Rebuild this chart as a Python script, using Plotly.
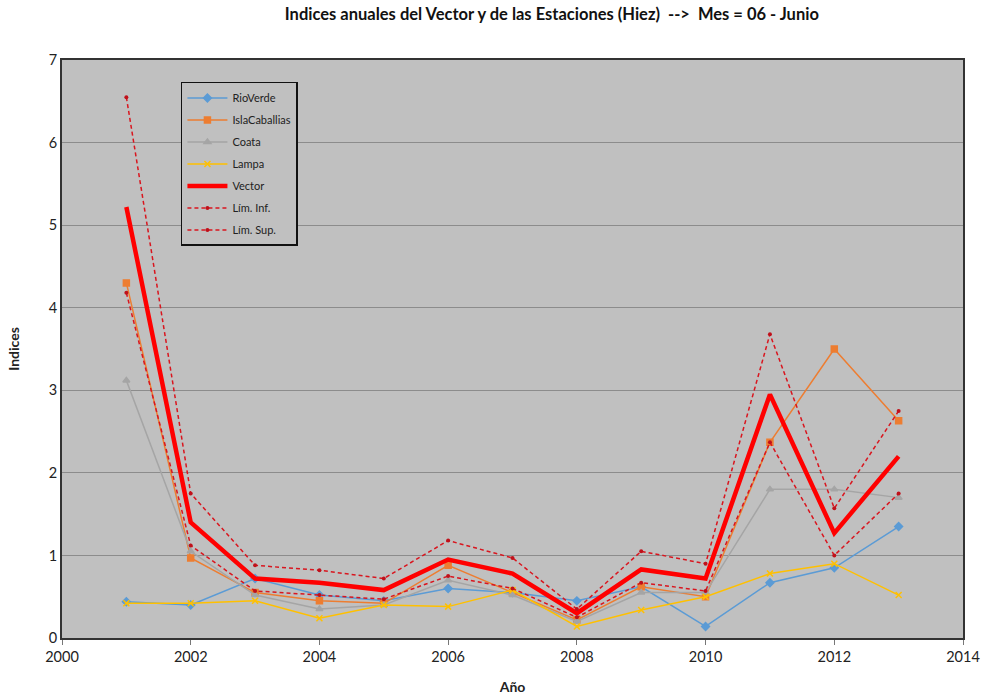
import plotly.graph_objects as go

years = list(range(2001, 2014))

rio_verde = [0.44, 0.40, 0.72, 0.52, 0.45, 0.60, 0.55, 0.45, 0.62, 0.14, 0.67, 0.85, 1.35]
isla_caballias = [4.30, 0.97, 0.55, 0.45, 0.42, 0.88, 0.55, 0.22, 0.62, 0.50, 2.37, 3.50, 2.63]
coata = [3.12, 1.05, 0.52, 0.35, 0.40, 0.70, 0.52, 0.20, 0.55, 0.55, 1.80, 1.80, 1.70]
lampa = [0.42, 0.42, 0.45, 0.24, 0.40, 0.38, 0.58, 0.14, 0.34, 0.50, 0.78, 0.90, 0.52]
vector = [5.22, 1.40, 0.72, 0.67, 0.58, 0.95, 0.78, 0.30, 0.83, 0.72, 2.95, 1.27, 2.20]
lim_inf = [4.18, 1.12, 0.57, 0.52, 0.47, 0.75, 0.60, 0.25, 0.67, 0.57, 2.37, 1.00, 1.75]
lim_sup = [6.55, 1.75, 0.88, 0.82, 0.72, 1.18, 0.97, 0.35, 1.05, 0.90, 3.68, 1.57, 2.75]

FONT = "Lato, 'Liberation Sans', sans-serif"

fig = go.Figure()

# stations first, so the red lines sit on top
stations = [
    ("RioVerde", rio_verde, "#5B9BD5", "diamond", 6),
    ("IslaCaballias", isla_caballias, "#ED7D31", "square", 6),
    ("Coata", coata, "#A5A5A5", "triangle-up", 6),
    ("Lampa", lampa, "#FFC000", "x-thin", 6),
]
for name, vals, color, symbol, size in stations:
    fig.add_trace(go.Scatter(
        x=years, y=vals, name=name, mode="lines+markers", legendgroup=name,
        line=dict(color=color, width=1.5),
        marker=dict(symbol=symbol, size=size, color=color,
                    line=dict(color=color, width=1.5)),
    ))

fig.add_trace(go.Scatter(
    x=years, y=vector, name="Vector", mode="lines", legendgroup="Vector",
    line=dict(color="#FF0000", width=4.5),
))
for name, vals in [("Lím. Inf.", lim_inf), ("Lím. Sup.", lim_sup)]:
    fig.add_trace(go.Scatter(
        x=years, y=vals, name=name, mode="lines+markers", legendgroup=name,
        line=dict(color="#D9151E", width=1.5, dash="4px,3px"),
        marker=dict(symbol="circle", size=4, color="#C0101A"),
    ))

fig.update_layout(
    width=982, height=696,
    paper_bgcolor="white",
    plot_bgcolor="#C0C0C0",
    margin=dict(l=62, r=19, t=60, b=58, autoexpand=False),
    font=dict(family=FONT, size=14, color="#222222"),
    title=dict(
        text="<b>Indices anuales del Vector y de las Estaciones (Hiez)  -->  Mes = 06 - Junio</b>",
        x=0.562, xanchor="center", y=0.988, yanchor="top",
        font=dict(size=16.5, color="#111111"),
    ),
    showlegend=True,
    legend=dict(
        x=0.132, y=0.962, xanchor="left", yanchor="top",
        bgcolor="#C0C0C0", bordercolor="#111111", borderwidth=1.5,
        font=dict(size=11, color="#222222"),
        tracegroupgap=3, itemwidth=40,
    ),
    xaxis=dict(
        range=[2000, 2014], dtick=2, tick0=2000,
        showgrid=False, zeroline=False, automargin=False,
        showline=True, linecolor="#333333", linewidth=2, mirror=True,
        ticks="outside", ticklen=5, tickcolor="#777777",
        tickfont=dict(size=14.5),
        title=dict(text="<b>Año</b>", font=dict(size=14), standoff=18),
    ),
    yaxis=dict(
        range=[0, 7], dtick=1,
        showgrid=True, gridcolor="#8C8C8C", gridwidth=1,
        zeroline=False, automargin=False,
        showline=True, linecolor="#333333", linewidth=2, mirror=True,
        ticks="", tickfont=dict(size=14.5),
        title=dict(text="<b>Indices</b>", font=dict(size=14), standoff=26),
    ),
)

# drop the page's default body margin so the figure fills the window
fig.write_html("out.html", config={"displayModeBar": False},
               post_script="document.body.style.margin='0';")
